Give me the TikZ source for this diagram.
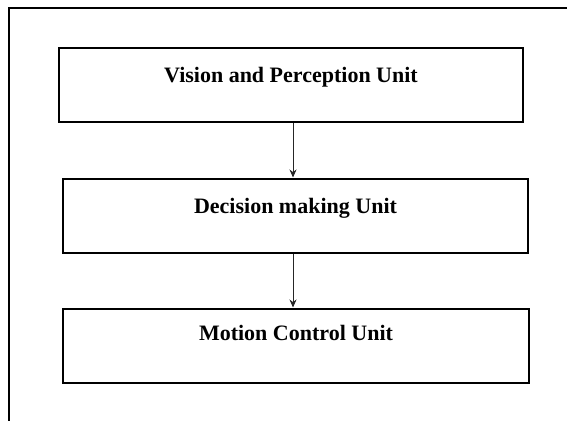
\documentclass[tikz,border=0pt]{standalone}
\usepackage{fontspec}
\setmainfont{Liberation Serif}
\usetikzlibrary{arrows.meta,calc}
\begin{document}
\begin{tikzpicture}[x=1pt,y=-1pt,
  unitbox/.style={draw=black,line width=2pt,minimum height=74pt,inner sep=0pt},
  lbl/.style={anchor=base,inner sep=0pt,font=\fontsize{22}{26}\selectfont\bfseries},
  conn/.style={draw=black!85,line width=1pt,-{Stealth[length=8pt,width=7pt]},shorten >=0.5pt}]
\useasboundingbox (0,0) rectangle (567,421);
% outer frame (top and left edges only)
\coordinate (ftl) at (9,8);
\coordinate (ftr) at (567,8);
\coordinate (fbl) at (9,421);
\draw[line width=1.5pt] (ftr) -- (ftl) -- (fbl);
% boxes
\node[unitbox,minimum width=464pt] (b1) at (291,85) {};
\node[unitbox,minimum width=465pt] (b2) at (295.5,216) {};
\node[unitbox,minimum width=466pt] (b3) at (296,346) {};
% labels
\node[lbl] (t1) at ($(b1.north)+(0,35)$) {Vision and Perception Unit};
\node[lbl] (t2) at ($(b2.north)+(0,35)$) {Decision making Unit};
\node[lbl] (t3) at ($(b3.north)+(0,32)$) {Motion Control Unit};
% connectors
\coordinate (c1a) at (b1.south -| 293,0);
\coordinate (c1b) at (b2.north -| 293,0);
\coordinate (c2a) at (b2.south -| 293,0);
\coordinate (c2b) at (b3.north -| 293,0);
\draw[conn] (c1a) -- (c1b);
\draw[conn] (c2a) -- (c2b);
\end{tikzpicture}
\end{document}
